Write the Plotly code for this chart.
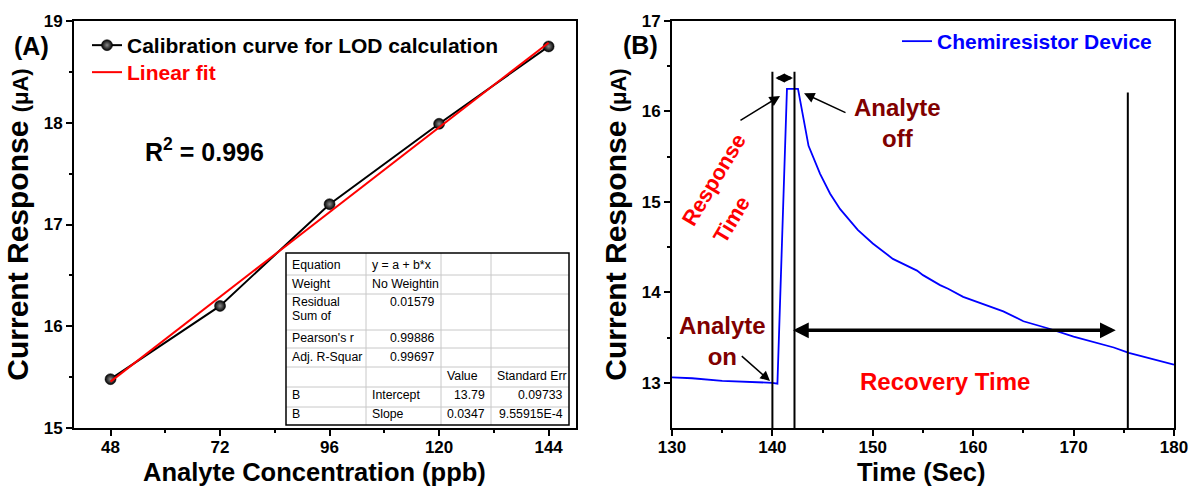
import plotly.graph_objects as go

W, H = 1189, 489
FONT = "Liberation Sans, Arial, sans-serif"

# ---------------- data ----------------
conc_ppb = [48, 72, 96, 120, 144]
current_uA = [15.48, 16.20, 17.20, 17.99, 18.75]
fit_intercept = 13.79
fit_slope = 0.0347
fit_x = [48, 144]

time_s = [130, 132, 135, 138, 140, 140.5, 141.45, 142.55, 143.6, 144.75, 145.75, 146.75,
          148.5, 150, 151.5, 152, 154.4, 155, 156.7, 157.5, 159, 160, 162, 163, 165,
          167.5, 170, 172, 174, 175.5, 178, 180]
resp_uA = [13.06, 13.05, 13.02, 13.01, 13.00, 12.99, 16.25, 16.25, 15.62, 15.31, 15.09, 14.92,
           14.69, 14.54, 14.42, 14.37, 14.24, 14.19, 14.08, 14.04, 13.95, 13.91, 13.83, 13.79, 13.68,
           13.60, 13.51, 13.45, 13.39, 13.33, 13.26, 13.20]

marker_x = [140.0, 142.2, 175.4]
marker_top = [16.44, 16.44, 16.21]

xticks_A = [48, 72, 96, 120, 144]
yticks_A = [15, 16, 17, 18, 19]
xticks_B = [130, 140, 150, 160, 170, 180]
yticks_B = [13, 14, 15, 16, 17]

table_rows = [
    ["Equation", "y = a + b*x", "", ""],
    ["Weight", "No Weightin", "", ""],
    ["Residual", "0.01579", "", ""],
    ["Pearson's r", "0.99886", "", ""],
    ["Adj. R-Squar", "0.99697", "", ""],
    ["", "", "Value", "Standard Err"],
    ["B", "Intercept", "13.79", "0.09733"],
    ["B", "Slope", "0.0347", "9.55915E-4"],
]

fit_y = [fit_intercept + fit_slope * v for v in fit_x]


def px(x):
    return x / W


def py(y):
    return 1 - y / H


fig = go.Figure()

fig.add_trace(go.Scatter(
    x=conc_ppb, y=current_uA, mode="lines+markers",
    name="Calibration curve for LOD calculation",
    line=dict(color="black", width=2),
    marker=dict(size=11, color="black", line=dict(color="black", width=0.5),
                gradient=dict(type="radial", color="#8a8a8a")),
    xaxis="x", yaxis="y", legend="legend"))
fig.add_trace(go.Scatter(
    x=fit_x, y=fit_y, mode="lines",
    name="Linear fit",
    line=dict(color="#ff0000", width=2),
    xaxis="x", yaxis="y", legend="legend3"))
fig.add_trace(go.Scatter(
    x=time_s, y=resp_uA, mode="lines", name="Chemiresistor Device",
    line=dict(color="#0000ff", width=1.8),
    xaxis="x2", yaxis="y2", legend="legend2"))

tickfont = dict(family=FONT, size=17, color="black", weight="bold")
ax_common = dict(showline=True, linecolor="black", linewidth=2, mirror=True,
                 ticks="outside", ticklen=6, tickwidth=2, tickcolor="black",
                 showgrid=False, zeroline=False, tickfont=tickfont, automargin=False)
ydom = [py(428), py(21)]
ytitle = "<b>Current Response <span style='font-size:22px'>(μA)</span></b>"
leg_common = dict(xanchor="left", yanchor="top", bgcolor="rgba(0,0,0,0)", borderwidth=0)

fig.update_layout(
    template="none",
    width=W, height=H, margin=dict(l=0, r=0, t=0, b=0, pad=0, autoexpand=False),
    paper_bgcolor="white", plot_bgcolor="white",
    font=dict(family=FONT, color="black"),
    xaxis=dict(domain=[px(74), px(576)], range=[40, 150], tickvals=xticks_A,
               minor=dict(tickvals=[60, 84, 108, 132], ticklen=3, tickwidth=1.5,
                          tickcolor="black", ticks="outside"),
               ticklabelstandoff=-3, anchor="y", **ax_common),
    yaxis=dict(domain=ydom, range=[15, 19], tickvals=yticks_A,
               minor=dict(tickvals=[15.5, 16.5, 17.5, 18.5], ticklen=3, tickwidth=1.5,
                          tickcolor="black", ticks="outside"),
               title=dict(text=ytitle, font=dict(family=FONT, size=30), standoff=6),
               anchor="x", **ax_common),
    xaxis2=dict(domain=[px(672), px(1174)], range=[130, 180], tickvals=xticks_B,
                minor=dict(tickvals=[135, 145, 155, 165, 175], ticklen=3, tickwidth=1.5,
                           tickcolor="black", ticks="outside"),
                ticklabelstandoff=-3, anchor="y2", **ax_common),
    yaxis2=dict(domain=ydom, range=[12.5, 17], tickvals=yticks_B,
                minor=dict(tickvals=[13.5, 14.5, 15.5, 16.5], ticklen=3, tickwidth=1.5,
                           tickcolor="black", ticks="outside"),
                title=dict(text=ytitle, font=dict(family=FONT, size=30), standoff=6),
                anchor="x2", **ax_common),
    legend=dict(x=px(87), y=py(25), **leg_common,
                font=dict(family=FONT, size=21, color="black", weight="bold")),
    legend3=dict(x=px(87), y=py(52), **leg_common,
                 font=dict(family=FONT, size=21, color="#ff0000", weight="bold")),
    legend2=dict(x=px(897), y=py(21), **leg_common,
                 font=dict(family=FONT, size=21, color="#0000ff", weight="bold")),
    showlegend=True,
)

shapes = []
# vertical marker lines in panel B
for xv, top in zip(marker_x, marker_top):
    shapes.append(dict(type="line", xref="x2", yref="y2", x0=xv, x1=xv, y0=12.5, y1=top,
                       line=dict(color="black", width=2)))

# parameter table (pixel layout)
tbl_left, tbl_right, tbl_top, tbl_bottom = 286, 569, 253, 425
col_edges = [286, 366, 441, 491, 569]
row_edges = [253, 275, 294, 330, 348, 367, 387, 407, 425]
shapes.append(dict(type="rect", xref="paper", yref="paper",
                   x0=px(tbl_left), x1=px(tbl_right), y0=py(tbl_bottom), y1=py(tbl_top),
                   fillcolor="white", line=dict(width=0)))
for cx in col_edges[1:-1]:
    shapes.append(dict(type="line", xref="paper", yref="paper", x0=px(cx), x1=px(cx),
                       y0=py(tbl_bottom), y1=py(tbl_top), line=dict(color="#c8c8c8", width=1)))
for ry in row_edges[1:-1]:
    shapes.append(dict(type="line", xref="paper", yref="paper", x0=px(tbl_left), x1=px(tbl_right),
                       y0=py(ry), y1=py(ry), line=dict(color="#c8c8c8", width=1)))
shapes.append(dict(type="rect", xref="paper", yref="paper",
                   x0=px(tbl_left), x1=px(tbl_right), y0=py(tbl_bottom), y1=py(tbl_top),
                   line=dict(color="black", width=1.5)))

annotations = []


def is_num(s):
    try:
        float(s)
        return True
    except ValueError:
        return False


row_text_y = [265, 284, 302, 338, 357, 376, 395, 414]
for r, row in enumerate(table_rows):
    for c, cell in enumerate(row):
        if not cell:
            continue
        if is_num(cell):
            xa, xp = "right", col_edges[c + 1] - 4
        else:
            xa, xp = "left", col_edges[c] + 4
        annotations.append(dict(xref="paper", yref="paper", x=px(xp), y=py(row_text_y[r]),
                                text=cell, showarrow=False, xanchor=xa, yanchor="middle",
                                font=dict(family=FONT, size=12.3, color="black")))
annotations.append(dict(xref="paper", yref="paper", x=px(col_edges[0] + 4), y=py(316),
                        text="Sum of", showarrow=False, xanchor="left", yanchor="middle",
                        font=dict(family=FONT, size=12.3, color="black")))

ctr = dict(showarrow=False, xanchor="center", yanchor="middle")
# panel labels, axis titles and text
annotations += [
    dict(xref="paper", yref="paper", x=px(31), y=py(46), text="<b>(A)</b>",
         font=dict(family=FONT, size=25, color="black"), **ctr),
    dict(xref="paper", yref="paper", x=px(640), y=py(45), text="<b>(B)</b>",
         font=dict(family=FONT, size=25, color="black"), **ctr),
    dict(xref="paper", yref="paper", x=px(314), y=py(472), text="<b>Analyte Concentration (ppb)</b>",
         font=dict(family=FONT, size=25.5, color="black"), **ctr),
    dict(xref="paper", yref="paper", x=px(921), y=py(472), text="<b>Time (Sec)</b>",
         font=dict(family=FONT, size=25.5, color="black"), **ctr),
    dict(xref="x", yref="y", x=68.7, y=17.735, text="<b>R<sup>2</sup> = 0.996</b>",
         font=dict(family=FONT, size=25, color="black"), **ctr),
    dict(xref="x2", yref="y2", x=152.5, y=15.87, text="<b>Analyte<br>off</b>",
         font=dict(family=FONT, size=24, color="#800000"), **ctr),
    dict(xref="x2", yref="y2", x=135.0, y=13.46, text="<b>Analyte<br>on</b>",
         font=dict(family=FONT, size=24, color="#800000"), **ctr),
    dict(xref="x2", yref="y2", x=157.2, y=13.01, text="<b>Recovery Time</b>",
         font=dict(family=FONT, size=24, color="#ff0000"), **ctr),
    dict(xref="x2", yref="y2", x=134.2, y=15.24, text="<b>Response</b>", textangle=-59,
         font=dict(family=FONT, size=21.5, color="#ff0000"), **ctr),
    dict(xref="x2", yref="y2", x=135.95, y=14.80, text="<b>Time</b>", textangle=-59,
         font=dict(family=FONT, size=21.5, color="#ff0000"), **ctr),
]

# arrows in panel B
arrow_kw = dict(xref="x2", yref="y2", axref="x2", ayref="y2", text="", showarrow=True,
                arrowcolor="black")
annotations += [
    dict(x=140.76, y=16.17, ax=136.67, ay=15.89, arrowhead=2, arrowwidth=1.5, arrowsize=1.4, **arrow_kw),
    dict(x=143.15, y=16.20, ax=147.43, ay=15.98, arrowhead=2, arrowwidth=1.5, arrowsize=1.4, **arrow_kw),
    dict(x=139.76, y=13.02, ax=136.8, ay=13.31, arrowhead=2, arrowwidth=1.5, arrowsize=1.3, **arrow_kw),
    dict(x=174.2, y=13.58, ax=141.9, ay=13.58, arrowhead=2, startarrowhead=2, arrowside="end+start",
         arrowwidth=3.5, arrowsize=0.9, startarrowsize=0.9, **arrow_kw),
    dict(x=142.05, y=16.37, ax=140.15, ay=16.37, arrowhead=2, startarrowhead=2, arrowside="end+start",
         arrowwidth=3, arrowsize=0.6, startarrowsize=0.6, **arrow_kw),
]

fig.update_layout(shapes=shapes, annotations=annotations)
fig.write_html("out.html")
